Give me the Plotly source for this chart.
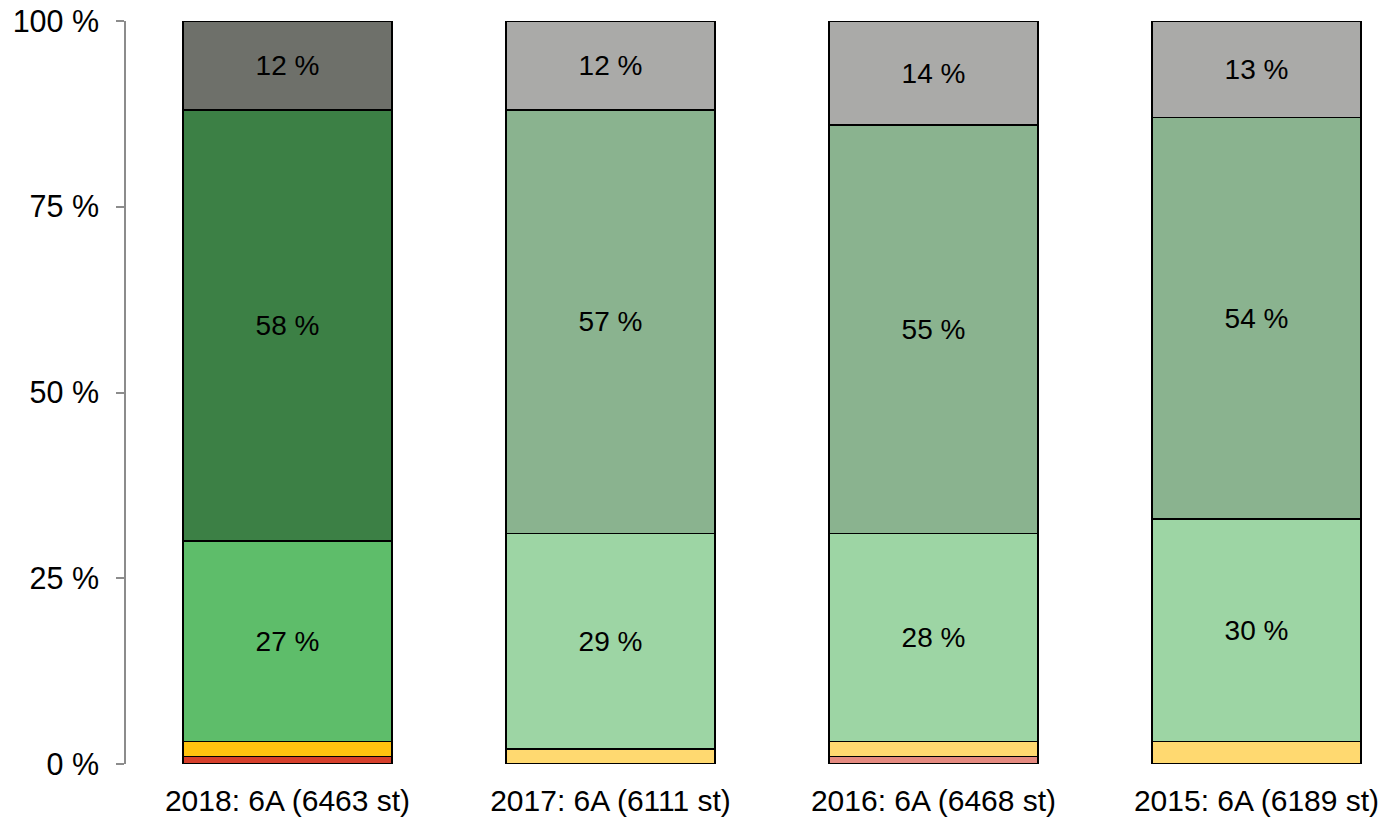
import plotly.graph_objects as go

categories = ["2018: 6A (6463 st)", "2017: 6A (6111 st)", "2016: 6A (6468 st)", "2015: 6A (6189 st)"]

red_vals = [1, 0, 1, 0]
yellow_vals = [2, 2, 2, 3]
green_vals = [27, 29, 28, 30]
darkgreen_vals = [58, 57, 55, 54]
grey_vals = [12, 12, 14, 13]

red_colors = ["#d63f2b", "#e58a80", "#e58a80", "#e58a80"]
yellow_colors = ["#ffc20f", "#ffd970", "#ffd970", "#ffd970"]
green_colors = ["#5ebd6a", "#9dd5a4", "#9dd5a4", "#9dd5a4"]
darkgreen_colors = ["#3c8045", "#8ab38f", "#8ab38f", "#8ab38f"]
grey_colors = ["#6e706a", "#aaaaa8", "#aaaaa8", "#aaaaa8"]

series = [
    (red_vals, red_colors, False),
    (yellow_vals, yellow_colors, False),
    (green_vals, green_colors, True),
    (darkgreen_vals, darkgreen_colors, True),
    (grey_vals, grey_colors, True),
]

fig = go.Figure()
for vals, cols, show in series:
    fig.add_trace(go.Bar(
        x=categories,
        y=vals,
        marker=dict(color=cols, line=dict(color="black", width=1.5)),
        text=[f"{v} %" for v in vals] if show else None,
        textposition="inside" if show else "none",
        insidetextanchor="middle",
        textangle=0,
        textfont=dict(color="black", size=28, family="Liberation Sans, Arial"),
        width=0.647,
        showlegend=False,
        hoverinfo="skip",
    ))

fig.update_layout(
    barmode="stack",
    width=1387,
    height=821,
    margin=dict(l=126, r=0, t=21, b=57),
    plot_bgcolor="white",
    paper_bgcolor="white",
    font=dict(family="Liberation Sans, Arial", size=30, color="black"),
)
fig.update_xaxes(
    range=[-0.5, 3.404],
    showline=False,
    showgrid=False,
    ticks="",
    tickfont=dict(size=30),
    automargin=False,
    ticklabelstandoff=16,
    ticklabeloverflow="allow",
)
fig.update_yaxes(
    range=[0, 100],
    tickvals=[0, 25, 50, 75, 100],
    ticktext=["0 %", "25 %", "50 %", "75 %", "100 %"],
    showline=True,
    linecolor="#8c8c8c",
    linewidth=1.5,
    ticks="outside",
    ticklen=8,
    tickcolor="#8c8c8c",
    tickwidth=1.5,
    showgrid=False,
    zeroline=False,
    tickfont=dict(size=30.5),
    automargin=False,
    ticklabelstandoff=11,
    ticklabeloverflow="allow",
)

# remove the page's default body margin so the figure fills the window exactly
fig.write_html(
    "out.html",
    config={"displayModeBar": False},
    post_script="document.body.style.margin='0';",
)
